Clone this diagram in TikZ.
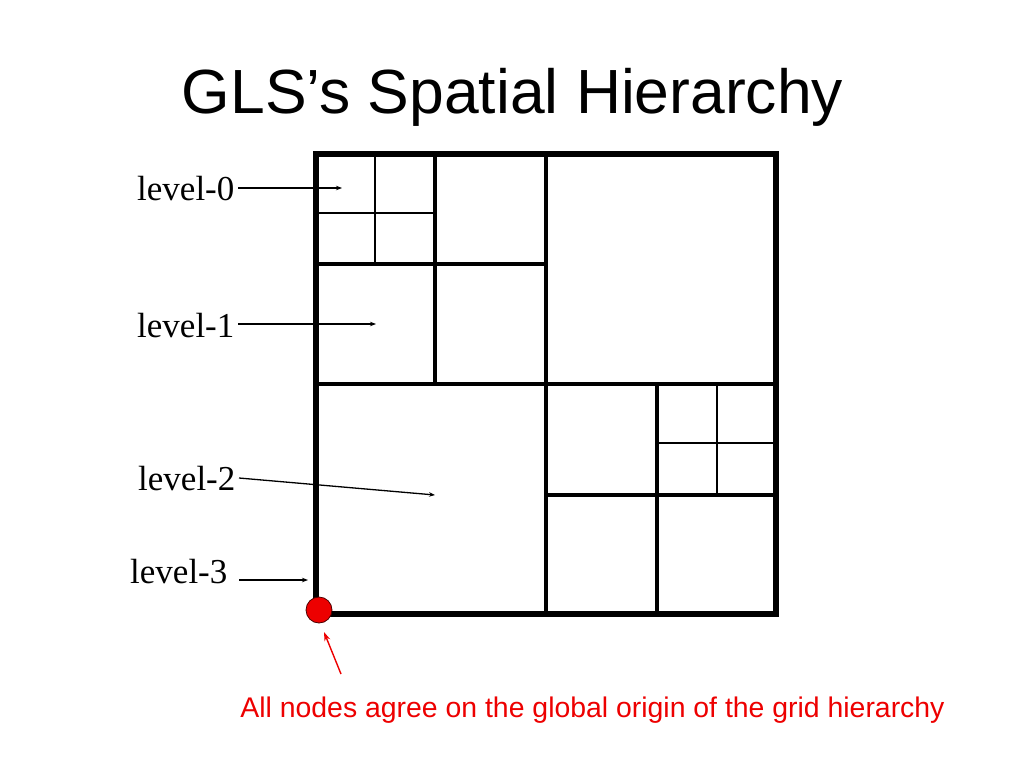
\documentclass[tikz,border=0pt]{standalone}
\usepackage{fontspec}
\setmainfont{Liberation Serif}
\newfontfamily\arialfont{Liberation Sans}
\usetikzlibrary{arrows.meta}
\definecolor{pptred}{RGB}{237,0,0}
\tikzset{
  outerline/.style={line width=6pt, line cap=rect},
  crossline/.style={line width=4.6pt},
  quadline/.style={line width=4pt},
  thinline/.style={line width=1.8pt},
  lbl/.style={anchor=base west, inner sep=0pt, font=\fontsize{35}{40}\selectfont},
  ptr/.style={line width=1.3pt, -{Stealth[length=6pt,width=4.5pt]}},
  redptr/.style={line width=1.4pt, draw=pptred, -{Stealth[length=9pt,width=6pt]}},
}
\begin{document}
\begin{tikzpicture}[x=1pt,y=-1pt]
\useasboundingbox (0,0) rectangle (1024,768);
% title
\node[anchor=base, inner sep=0pt, font=\arialfont\fontsize{62.4}{68}\selectfont] (title) at (512.5,113) {GLS’s Spatial Hierarchy};
% thin level-0 lines
\draw[thinline] (375,154) -- (375,264);
\draw[thinline] (316,213) -- (435,213);
\draw[thinline] (717,384) -- (717,495);
\draw[thinline] (657,443) -- (776,443);
% quadrant lines
\draw[quadline] (435,154) -- (435,384);
\draw[quadline] (316,264) -- (546,264);
\draw[quadline] (657,384) -- (657,614);
\draw[quadline] (546,495) -- (776,495);
% main cross
\draw[crossline] (546,154) -- (546,614);
\draw[crossline] (316,384) -- (776,384);
% outer square
\draw[outerline] (316,154) rectangle (776,614);
% labels
\node[lbl] (l0) at (137,200) {level-0};
\node[lbl] (l1) at (137,337) {level-1};
\node[lbl] (l2) at (138,490) {level-2};
\node[lbl] (l3) at (130,583) {level-3};
\coordinate (s0) at (238,188); \coordinate (t0) at (342,188);
\coordinate (s1) at (238,324); \coordinate (t1) at (376,324);
\coordinate (s2) at (239,478); \coordinate (t2) at (435,495);
\coordinate (s3) at (239,580); \coordinate (t3) at (308,580);
\draw[ptr] (s0) -- (t0);
\draw[ptr] (s1) -- (t1);
\draw[ptr] (s2) -- (t2);
\draw[ptr] (s3) -- (t3);
% origin dot
\node[circle, minimum size=26pt, inner sep=0pt, fill=pptred, draw=black!70!red, line width=0.8pt] (origin) at (319,610) {};
\coordinate (rs) at (341,674);
\coordinate (rt) at (324,632);
\draw[redptr] (rs) -- (rt);
\node[anchor=base, inner sep=0pt, text=pptred, font=\arialfont\fontsize{28.4}{32}\selectfont] (note) at (592.5,717) {All nodes agree on the global origin of the grid hierarchy};
\end{tikzpicture}
\end{document}
